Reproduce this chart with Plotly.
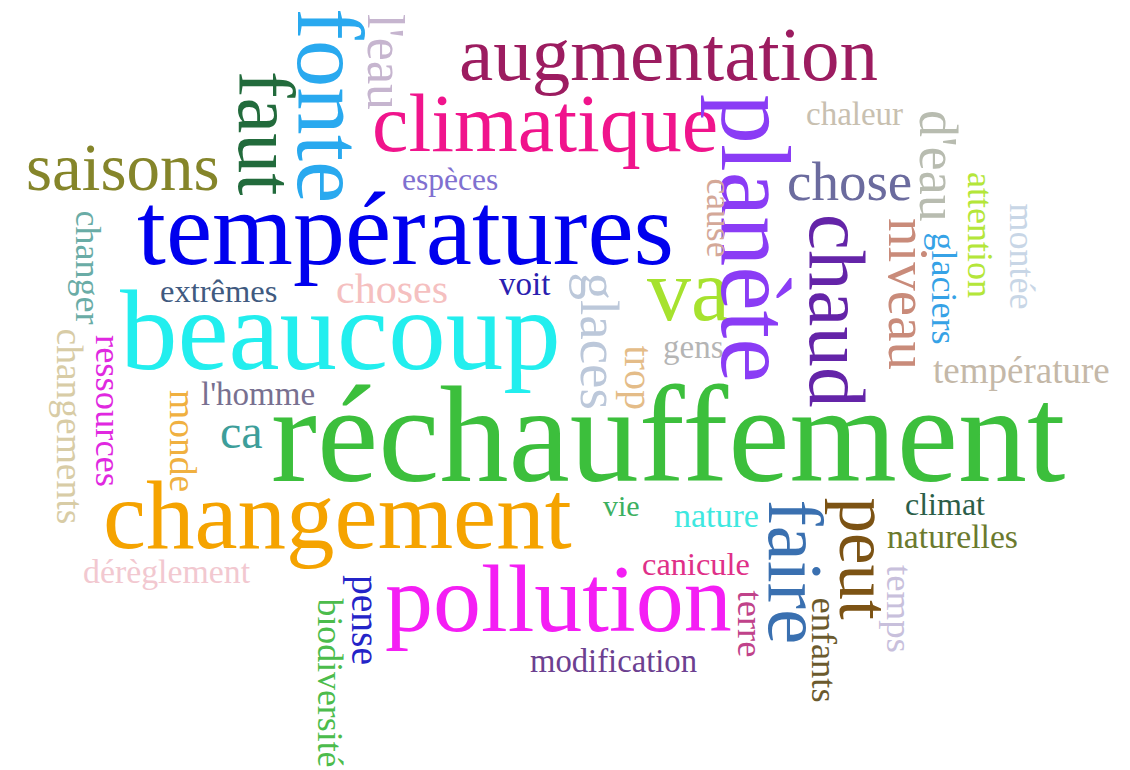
import plotly.graph_objects as go

# Word cloud data: words and their relative weight (rendered font size)
words = ["réchauffement", "températures", "beaucoup", "changement", "pollution",
         "augmentation", "climatique", "va", "saisons", "chose", "ca", "choses",
         "chaleur", "espèces", "extrêmes", "voit", "gens", "température", "l'homme",
         "vie", "nature", "climat", "naturelles", "canicule", "modification", "dérèglement",
         "fonte", "faut", "l'eau", "planète", "chaud", "niveau", "d'eau", "glaciers",
         "attention", "montée", "cause", "changer", "changements", "ressources", "monde",
         "glaces", "trop", "faire", "peut", "terre", "enfants", "temps", "pense", "biodiversité"]
weight = [138, 104, 115, 97, 96,
          77, 82, 88, 67, 55, 48, 42,
          33, 31.5, 32.5, 33, 33, 37, 33,
          30, 34, 32, 33.7, 32.4, 32.7, 33.8,
          95, 80, 52, 100, 81, 57, 54, 36,
          36, 36, 35.6, 36, 37.5, 36.5, 37.5,
          55, 40, 79, 71, 36.6, 36.4, 36.8, 39.5, 35.8]
orientation = [0, 0, 0, 0, 0,
               0, 0, 0, 0, 0, 0, 0,
               0, 0, 0, 0, 0, 0, 0,
               0, 0, 0, 0, 0, 0, 0,
               90, 90, 90, 90, 90, 90, 90, 90,
               90, 90, 90, 90, 90, 90, 90,
               90, 90, 90, 90, 90, 90, 90, 90, 90]
pos_x = [668, 405, 340, 337.5, 558.5,
         668.5, 545, 688, 122.5, 849.5, 241.5, 392,
         854.5, 450, 218.5, 524, 693, 1021, 257.5,
         621.5, 716, 945, 952.5, 696, 613.5, 166.5,
         330, 266, 385.5, 756, 837, 909, 938, 944,
         980, 1022, 719, 88, 69.5, 109, 183,
         599, 638, 795, 864, 750, 824, 900, 365, 330]
pos_y = [434, 228.6, 330, 515.6, 598,
         54.4, 123, 290, 167, 181.4, 431, 289,
         113.9, 179.5, 291, 284, 347, 370.5, 394,
         505, 515.5, 504, 536.6, 564, 661, 571.6,
         105, 133, 61.5, 238, 310, 294, 166, 288.5,
         235, 256.5, 217.5, 267.5, 426, 411, 441,
         340.5, 377.5, 571.5, 558.5, 623.5, 649.5, 609, 620, 682.5]
colors = ["#3cbf3c", "#0000ee", "#22eeee", "#f5a300", "#f41ef4",
          "#9c1c60", "#f0148c", "#a6e22e", "#85852a", "#6b6b9e", "#3d9e9a", "#f5c0c0",
          "#c8c0b0", "#8070d0", "#405a80", "#2a20b0", "#b5b5b5", "#c4b8a8", "#787090",
          "#3cb060", "#3ee8e0", "#2c5e48", "#6b7a2e", "#e03088", "#6c4090", "#f2c8d0",
          "#29a9ef", "#226b3c", "#c6b5cf", "#8a3cf5", "#6424a8", "#c98b7a", "#b8bcb0", "#36a2e6",
          "#b4e63a", "#c8d6e6", "#d4a898", "#6aaca6", "#d8cca6", "#e028e0", "#f0b040",
          "#bcc8da", "#e4bc88", "#3a70b0", "#7c5314", "#c0428a", "#6b5a2e", "#c8c0dc", "#2424c8", "#4cbc4c"]

# The page body has a default 8px margin; offset the axis ranges so that
# data coordinates equal screen pixels of the final screenshot.
PAGE_OFFSET = 8

fig = go.Figure()
fig.add_trace(go.Scatter(x=[PAGE_OFFSET, 1130], y=[PAGE_OFFSET, 770], mode="markers",
                         marker=dict(opacity=0), hoverinfo="skip", showlegend=False))

for w, s, a, x, y, c in zip(words, weight, orientation, pos_x, pos_y, colors):
    fig.add_annotation(x=x, y=y, xref="x", yref="y", text=w, showarrow=False,
                       textangle=a, xanchor="center", yanchor="middle",
                       font=dict(family="Liberation Serif", size=s, color=c),
                       borderpad=0)

fig.update_layout(width=1130, height=770, margin=dict(l=0, r=0, t=0, b=0),
                  paper_bgcolor="white", plot_bgcolor="white", showlegend=False)
fig.update_xaxes(range=[PAGE_OFFSET, 1130 + PAGE_OFFSET], visible=False, fixedrange=True)
fig.update_yaxes(range=[770 + PAGE_OFFSET, PAGE_OFFSET], visible=False, fixedrange=True)

fig.write_html("out.html")
